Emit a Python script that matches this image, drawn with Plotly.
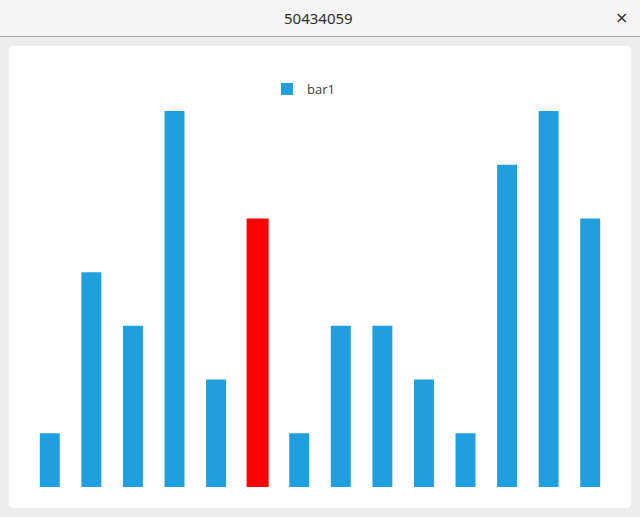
"""Bar chart in a window frame: one highlighted bar among a series."""

import plotly.graph_objects as go

W, H = 640, 517
PLOT_L, PLOT_R = 29.25, 610.75
PLOT_T, PLOT_B = 111, 487

categories = [str(i) for i in range(1, 15)]
values = [1, 4, 3, 7, 2, 5, 1, 3, 3, 2, 1, 6, 7, 5]
highlight_index = 5

BLUE = "#209fdf"
RED = "#ff0000"


def px_x(x):
    return (x - PLOT_L) / (PLOT_R - PLOT_L)


def px_y(y):
    return (PLOT_B - y) / (PLOT_B - PLOT_T)


colors = [RED if i == highlight_index else BLUE for i in range(len(values))]
widths = [0.53 if i == highlight_index else 0.48 for i in range(len(values))]

fig = go.Figure()
fig.add_trace(
    go.Bar(
        x=categories,
        y=values,
        name="bar1",
        marker={"color": colors, "line": {"width": 0}},
        width=widths,
        showlegend=True,
    )
)


def rounded_rect(x0, y0, x1, y1, r):
    # path in paper coordinates from pixel coordinates
    X0, X1 = px_x(x0), px_x(x1)
    Y0, Y1 = px_y(y0), px_y(y1)
    rx = r / (PLOT_R - PLOT_L)
    ry = r / (PLOT_B - PLOT_T)
    return (
        f"M{X0 + rx},{Y0} L{X1 - rx},{Y0} Q{X1},{Y0} {X1},{Y0 - ry} "
        f"L{X1},{Y1 + ry} Q{X1},{Y1} {X1 - rx},{Y1} L{X0 + rx},{Y1} "
        f"Q{X0},{Y1} {X0},{Y1 + ry} L{X0},{Y0 - ry} Q{X0},{Y0} {X0 + rx},{Y0} Z"
    )


shapes = [
    # title bar
    dict(type="rect", xref="paper", yref="paper",
         x0=px_x(0), x1=px_x(W), y0=px_y(0), y1=px_y(36),
         fillcolor="#f5f5f5", line={"width": 0}, layer="below"),
    dict(type="line", xref="paper", yref="paper",
         x0=px_x(0), x1=px_x(W), y0=px_y(36.5), y1=px_y(36.5),
         line={"color": "#a8a8a8", "width": 1}, layer="below"),
    # white chart card
    dict(type="path", xref="paper", yref="paper",
         path=rounded_rect(9, 46, 631, 508, 5),
         fillcolor="white", line={"width": 0}, layer="below"),
]

annotations = [
    dict(text="50434059", xref="paper", yref="paper",
         x=px_x(319), y=px_y(18), showarrow=False,
         xanchor="center", yanchor="middle",
         font={"family": "Noto Sans", "size": 15, "color": "#2e2e2e"}),
    dict(text="×", xref="paper", yref="paper",
         x=px_x(621), y=px_y(18), showarrow=False,
         xanchor="center", yanchor="middle",
         font={"family": "DejaVu Sans", "size": 16, "color": "#2e2e2e"}),
]

fig.update_layout(
    width=W,
    height=H,
    margin={"l": PLOT_L, "r": W - PLOT_R, "t": PLOT_T, "b": H - PLOT_B, "pad": 0},
    paper_bgcolor="#ededed",
    plot_bgcolor="white",
    shapes=shapes,
    annotations=annotations,
    showlegend=True,
    legend={
        "x": px_x(267), "y": px_y(74), "xanchor": "left", "yanchor": "top",
        "bgcolor": "rgba(0,0,0,0)", "orientation": "h",
        "font": {"family": "Open Sans", "size": 13, "color": "#404040"},
        "itemwidth": 30,
    },
    xaxis={"visible": False, "range": [-0.5, len(values) - 0.5]},
    yaxis={"visible": False, "range": [0, 7]},
)

fig.write_html(
    "out.html",
    config={"displayModeBar": False},
    post_script="document.body.style.margin='0';",
)
